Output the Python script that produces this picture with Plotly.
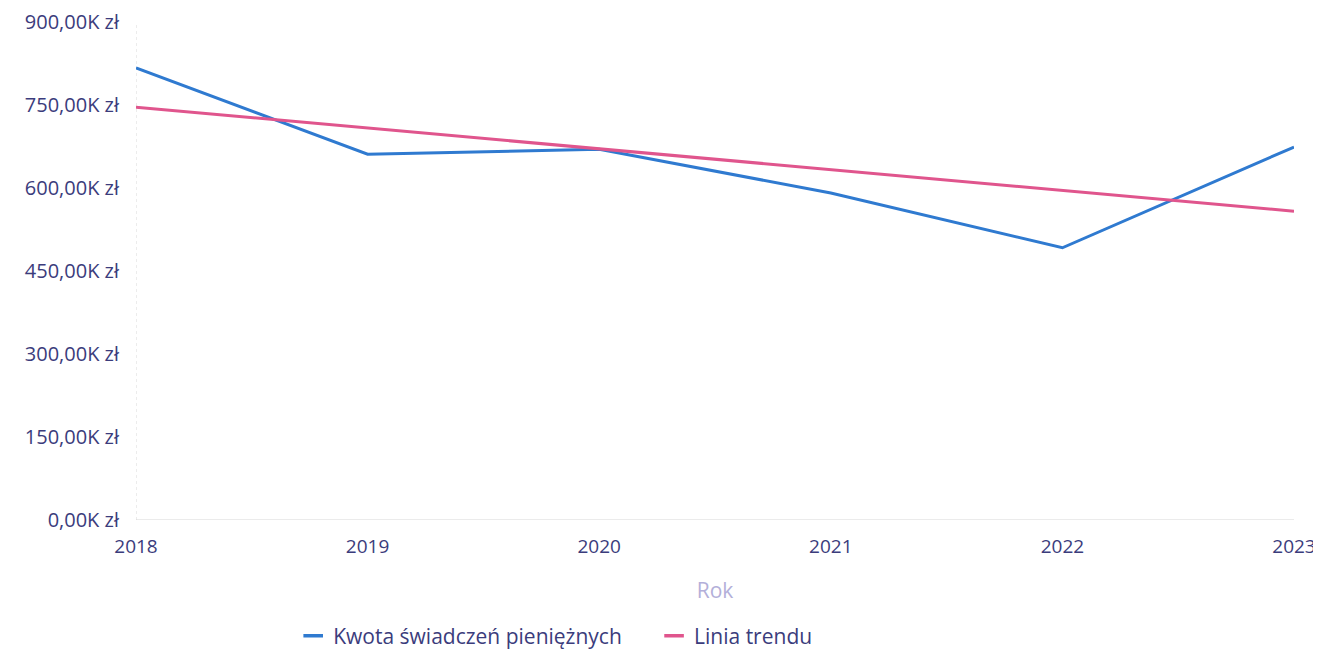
import plotly.graph_objects as go

years = [2018, 2019, 2020, 2021, 2022, 2023]
kwota = [817000, 661000, 670000, 591000, 492000, 674000]
trend = [746000, 708500, 671000, 633500, 596000, 558000]
y_ticks = [0, 150000, 300000, 450000, 600000, 750000, 900000]
y_labels = ["0,00K zł", "150,00K zł", "300,00K zł", "450,00K zł", "600,00K zł", "750,00K zł", "900,00K zł"]
names = ["Kwota świadczeń pieniężnych", "Linia trendu"]
colors = ["#2f7ad0", "#e0558d"]

font = "Open Sans"
tick_color = "#3b3c7c"

fig = go.Figure()
for vals, name, col in zip([kwota, trend], names, colors):
    fig.add_trace(go.Scatter(x=years, y=vals, mode="lines", name=name, showlegend=False,
                             line=dict(color=col, width=3)))
# short legend markers
legend_names = [names[0] + "\u00a0" * 5, names[1]]
for name, col in zip(legend_names, colors):
    fig.add_trace(go.Scatter(x=[None], y=[None], mode="markers", name=name,
                             marker=dict(symbol="line-ew", size=14, line=dict(color=col, width=3.5))))

fig.add_shape(type="line", xref="x", yref="paper", x0=2018, x1=2018, y0=0, y1=1,
              line=dict(color="#d9d9d9", width=1, dash="dot"), layer="below")
fig.add_shape(type="line", xref="paper", yref="y", x0=0, x1=1, y0=0, y1=0,
              line=dict(color="#d6d6d6", width=1), layer="below")

# page body has an 8px margin; sizes compensate so the plot area lands at 136..1294 x 22..520
fig.update_layout(
    width=1313, height=641,
    margin=dict(l=128, r=27, t=14, b=129, autoexpand=False),
    paper_bgcolor="white", plot_bgcolor="white",
    font=dict(family=font, size=19, color=tick_color),
    showlegend=True,
    legend=dict(orientation="h", x=0.362, xanchor="center", y=-0.192, yanchor="top",
                font=dict(size=21, color="#3b3c7c"), itemwidth=30, tracegroupgap=0),
    xaxis=dict(
        tickmode="array", tickvals=years, ticktext=[str(y) for y in years],
        range=[2018, 2023], showgrid=False, zeroline=False,
        showline=False, ticks="", ticklabelstandoff=13,
        tickfont=dict(size=19, color=tick_color),
        title=dict(text="Rok", font=dict(size=21, color="#b3afd9"), standoff=25),
    ),
    yaxis=dict(
        tickmode="array", tickvals=y_ticks, ticktext=y_labels,
        range=[0, 900000], showgrid=False, zeroline=False,
        showline=False, ticks="", ticklabelstandoff=16,
        tickfont=dict(size=20, color=tick_color),
    ),
)

fig.write_html("out.html")
